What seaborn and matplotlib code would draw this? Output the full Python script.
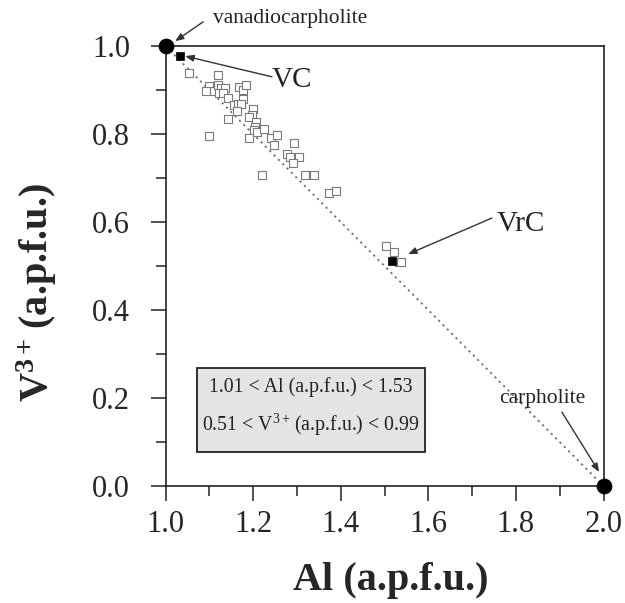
import matplotlib
matplotlib.use("Agg")
import matplotlib.pyplot as plt
from matplotlib.patches import Rectangle
import seaborn as sns
import pandas as pd

# --- data ---
# open squares: analysed compositions
al_open = [1.054, 1.120, 1.100, 1.092, 1.111, 1.120, 1.127, 1.136, 1.123, 1.131,
           1.168, 1.178, 1.184, 1.142, 1.178, 1.157, 1.166, 1.172, 1.164, 1.142,
           1.099, 1.200, 1.198, 1.191, 1.207, 1.204, 1.203, 1.208, 1.226, 1.191,
           1.241, 1.254, 1.248, 1.293, 1.277, 1.284, 1.305, 1.290, 1.220, 1.318,
           1.340, 1.374, 1.389, 1.503, 1.522, 1.532, 1.538]
v_open = [0.939, 0.933, 0.909, 0.897, 0.897, 0.912, 0.905, 0.905, 0.894, 0.894,
          0.906, 0.901, 0.912, 0.882, 0.880, 0.867, 0.869, 0.869, 0.853, 0.833,
          0.796, 0.856, 0.844, 0.839, 0.827, 0.815, 0.810, 0.804, 0.812, 0.791,
          0.790, 0.797, 0.776, 0.780, 0.755, 0.748, 0.748, 0.734, 0.706, 0.706,
          0.706, 0.665, 0.671, 0.545, 0.531, 0.508, 0.508]

# filled squares: VC and VrC
al_filled = [1.032, 1.518]
v_filled = [0.978, 0.512]

# end-members: vanadiocarpholite and carpholite
al_end = [1.0, 2.0]
v_end = [1.0, 0.0]

df_open = pd.DataFrame({"al": al_open, "v": v_open})
df_filled = pd.DataFrame({"al": al_filled, "v": v_filled})
df_end = pd.DataFrame({"al": al_end, "v": v_end})

sns.set_style("ticks")
plt.rcParams["font.family"] = "Liberation Serif"
plt.rcParams["mathtext.fontset"] = "custom"
plt.rcParams["mathtext.rm"] = "Liberation Serif"
plt.rcParams["mathtext.it"] = "Liberation Serif:italic"
plt.rcParams["mathtext.bf"] = "Liberation Serif:bold"

fig = plt.figure(figsize=(6.25, 6.03), dpi=100)
ax = fig.add_axes([0.2648, 0.194, 0.7008, 0.7297])

# tie line between end-members
sns.lineplot(data=df_end, x="al", y="v", ax=ax, color="#707070",
             linestyle=(0, (1.2, 2.2)), linewidth=1.3, zorder=1)

sns.scatterplot(data=df_open, x="al", y="v", ax=ax, marker="s", s=26,
                facecolor="white", edgecolor="#7a7a7a", linewidth=0.8, zorder=3)
sns.scatterplot(data=df_filled, x="al", y="v", ax=ax, marker="s", s=36,
                color="black", edgecolor="black", linewidth=0.5, zorder=4)
sns.scatterplot(data=df_end, x="al", y="v", ax=ax, marker="o", s=110,
                color="black", edgecolor="black", zorder=6, clip_on=False)

ax.set_xlim(1.0, 2.0)
ax.set_ylim(0.0, 1.0)
ax.set_xticks([1.0, 1.2, 1.4, 1.6, 1.8, 2.0])
ax.set_yticks([0.0, 0.2, 0.4, 0.6, 0.8, 1.0])
ax.set_xticks([1.1, 1.3, 1.5, 1.7, 1.9], minor=True)
ax.set_yticks([0.1, 0.3, 0.5, 0.7, 0.9], minor=True)
ax.set_xticklabels(["1.0", "1.2", "1.4", "1.6", "1.8", "2.0"])
ax.set_yticklabels(["0.0", "0.2", "0.4", "0.6", "0.8", "1.0"])
ax.tick_params(axis="both", which="major", direction="out", length=10.5,
               width=1.1, labelsize=22, color="#222222")
ax.tick_params(axis="both", which="minor", direction="out", length=7,
               width=1.1, color="#222222")
ax.tick_params(axis="x", which="major", pad=7)
ax.tick_params(axis="y", which="major", pad=15)
for sp in ax.spines.values():
    sp.set_visible(True)
    sp.set_linewidth(1.2)
    sp.set_color("#222222")

ax.set_xlabel("Al (a.p.f.u.)", fontsize=29, fontweight="bold", va="center")
ax.xaxis.set_label_coords(0.515, -0.214)
ax.set_ylabel(r"V$^{\mathbf{3+}}\,$(a.p.f.u.)", fontsize=29, fontweight="bold",
              va="center")
ax.yaxis.set_label_coords(-0.293, 0.44)

arrow = dict(arrowstyle="-|>,head_length=0.5,head_width=0.2", color="#333333",
             lw=1.0, shrinkA=0, shrinkB=0)

ax.text(1.108, 1.063, "vanadiocarpholite", fontsize=15.5, ha="left", va="center",
        clip_on=False, color="#222222")
ax.annotate("", xy=(1.022, 1.011), xytext=(1.086, 1.055), arrowprops=arrow,
            annotation_clip=False)

ax.text(1.243, 0.923, "VC", fontsize=21, ha="left", va="center", color="#222222")
ax.annotate("", xy=(1.045, 0.977), xytext=(1.243, 0.930), arrowprops=arrow)

ax.text(1.757, 0.595, "VrC", fontsize=21, ha="left", va="center", color="#222222")
ax.annotate("", xy=(1.554, 0.527), xytext=(1.745, 0.609), arrowprops=arrow)

ax.text(1.860, 0.198, "carpholite", fontsize=15.5, ha="center", va="center",
        color="#222222")
ax.annotate("", xy=(1.990, 0.032), xytext=(1.905, 0.168), arrowprops=arrow)

# composition range box
ax.add_patch(Rectangle((1.072, 0.077), 0.52, 0.191, facecolor="#e4e4e4",
                       edgecolor="#222222", linewidth=1.3, zorder=2))
ax.text(1.332, 0.225, "1.01 < Al (a.p.f.u.) < 1.53", fontsize=14.3,
        ha="center", va="center", zorder=3, color="#222222")
ax.text(1.332, 0.139, r"0.51 < V$^{3+}\,$(a.p.f.u.) < 0.99", fontsize=14.3,
        ha="center", va="center", zorder=3, color="#222222")

fig.savefig("out.png", dpi=100)
